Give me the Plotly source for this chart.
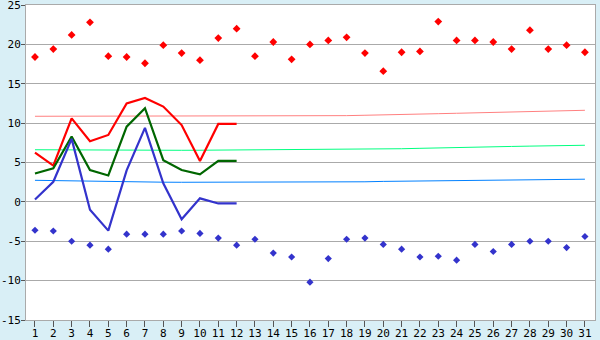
import plotly.graph_objects as go

days = list(range(1, 32))
days12 = list(range(1, 13))

record_high = [18.4, 19.4, 21.2, 22.8, 18.5, 18.4, 17.6, 19.9, 18.9, 18.0,
               20.8, 22.0, 18.5, 20.3, 18.1, 20.0, 20.5, 20.9, 18.9, 16.6,
               19.0, 19.1, 22.9, 20.5, 20.5, 20.3, 19.4, 21.8, 19.4, 19.9, 19.0]
record_low = [-3.6, -3.7, -5.0, -5.5, -6.0, -4.1, -4.1, -4.1, -3.7, -4.0,
              -4.6, -5.5, -4.75, -6.5, -7.0, -10.2, -7.2, -4.75, -4.6, -5.4,
              -6.0, -7.0, -6.9, -7.4, -5.4, -6.3, -5.4, -5.0, -5.0, -5.8, -4.4]

normal_max = [10.87, 10.87, 10.87, 10.87, 10.87, 10.87, 10.87, 10.87, 10.87, 10.87,
              10.87, 10.87, 10.88, 10.88, 10.89, 10.9, 10.92, 10.95, 11.0, 11.03,
              11.1, 11.14, 11.2, 11.25, 11.3, 11.37, 11.4, 11.45, 11.5, 11.55, 11.63]
normal_mean = [6.62, 6.6, 6.58, 6.56, 6.55, 6.55, 6.55, 6.55, 6.55, 6.56,
               6.57, 6.58, 6.6, 6.65, 6.67, 6.68, 6.68, 6.69, 6.7, 6.72,
               6.75, 6.8, 6.83, 6.88, 6.93, 6.98, 7.04, 7.08, 7.13, 7.17, 7.19]
normal_min = [2.74, 2.7, 2.62, 2.6, 2.58, 2.56, 2.54, 2.5, 2.49, 2.49,
              2.49, 2.49, 2.49, 2.49, 2.5, 2.5, 2.52, 2.53, 2.55, 2.6,
              2.62, 2.64, 2.66, 2.7, 2.72, 2.74, 2.76, 2.78, 2.82, 2.86, 2.88]

obs_max = [6.25, 4.6, 10.6, 7.7, 8.5, 12.5, 13.2, 12.1, 9.75, 5.2, 9.9, 9.9]
obs_mean = [3.6, 4.25, 8.3, 4.05, 3.35, 9.55, 11.9, 5.3, 4.05, 3.5, 5.2, 5.2]
obs_min = [0.3, 2.55, 8.0, -1.0, -3.65, 4.0, 9.4, 2.35, -2.2, 0.45, -0.2, -0.2]

yticks = [-15, -10, -5, 0, 5, 10, 15, 20, 25]
ytick_labels = ["-15", "-10", "-5", "0", "5", "10", "15", "20", "25"]

fig = go.Figure()
fig.add_trace(go.Scatter(x=days, y=normal_max, mode="lines",
                         line=dict(color="#ff8080", width=1)))
fig.add_trace(go.Scatter(x=days, y=normal_mean, mode="lines",
                         line=dict(color="#00ff80", width=1)))
fig.add_trace(go.Scatter(x=days, y=normal_min, mode="lines",
                         line=dict(color="#0080ff", width=1)))
fig.add_trace(go.Scatter(x=days12, y=obs_max, mode="lines",
                         line=dict(color="#ff0000", width=2.2)))
fig.add_trace(go.Scatter(x=days12, y=obs_mean, mode="lines",
                         line=dict(color="#006600", width=2.2)))
fig.add_trace(go.Scatter(x=days12, y=obs_min, mode="lines",
                         line=dict(color="#3333cc", width=2.2)))
fig.add_trace(go.Scatter(x=days, y=record_high, mode="markers",
                         marker=dict(symbol="diamond", size=6, color="#ff0000")))
fig.add_trace(go.Scatter(x=days, y=record_low, mode="markers",
                         marker=dict(symbol="diamond", size=5.5, color="#3333cc")))

fig.update_layout(
    width=600, height=340,
    margin=dict(l=26, r=5, t=5, b=20, autoexpand=False),
    paper_bgcolor="#d9eff6",
    plot_bgcolor="#ffffff",
    showlegend=False,
    font=dict(family="DejaVu Sans Mono", size=11, color="#000000"),
)
fig.update_xaxes(
    range=[0.51, 31.55], tickmode="array", tickvals=days,
    ticktext=[str(d) for d in days],
    showgrid=False, zeroline=False, automargin=False,
    showline=True, linecolor="#aaaaaa", linewidth=1, mirror=True,
    ticks="outside", ticklen=6, tickcolor="#555555",
    ticklabelstandoff=-3,
)
fig.update_yaxes(
    range=[-15, 25], tickmode="array", tickvals=yticks,
    ticktext=ytick_labels,
    showgrid=True, gridcolor="#aaaaaa", gridwidth=1, zeroline=False,
    automargin=False,
    showline=True, linecolor="#aaaaaa", linewidth=1, mirror=True,
    ticks="outside", ticklen=4, tickcolor="#555555",
    ticklabeloverflow="allow", ticklabelstandoff=-2,
)

fig.write_html("out.html")
